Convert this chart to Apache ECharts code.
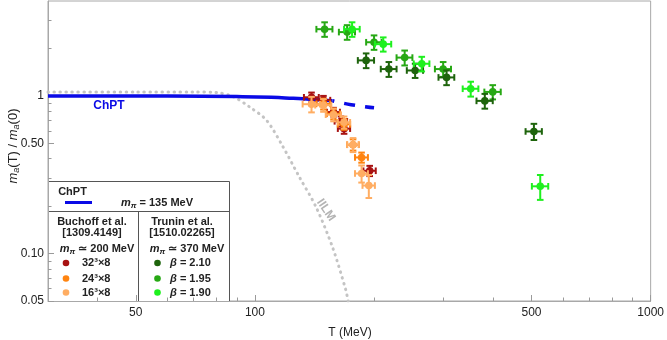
<!DOCTYPE html>
<html>
<head>
<meta charset="utf-8">
<script src="https://cdn.jsdelivr.net/npm/echarts@6/dist/echarts.min.js"></script>
<style>
  html, body { margin: 0; padding: 0; background: #fff; }
  #chart { width: 667px; height: 340px; }
</style>
</head>
<body>
<div id="chart"></div>
<script>
// axis ticks
const xMajor = [50, 100, 500, 1000];
const xMinor = [40, 60, 70, 80, 90, 200, 300, 400, 600, 700, 800, 900];
const yMajor = [0.05, 0.1, 0.5, 1];
const yMajorLabels = ['0.05', '0.10', '0.50', '1'];
const yMinor = [0.06, 0.07, 0.08, 0.09, 0.2, 0.3, 0.4, 0.6, 0.7, 0.8, 0.9, 2, 3];

// ChPT curve (solid, then dashed continuation)
const chptT = [30, 60, 90, 110, 125, 140, 157];
const chptM = [1.0, 0.998, 0.99, 0.98, 0.965, 0.95, 0.932];
const chptDashT = [157, 175, 200];
const chptDashM = [0.932, 0.88, 0.84];

// IILM curve
const iilmT = [30, 50, 70, 80, 88, 97, 107, 117.5, 129.4, 142.6, 157, 169.6, 172];
const iilmM = [1.06, 1.06, 1.06, 1.05, 0.99, 0.85, 0.70, 0.48, 0.307, 0.198, 0.11, 0.059, 0.05];

// Buchoff et al. lattice
const l32T = [139, 149, 158, 165, 168, 195];
const l32M = [0.98, 0.94, 0.79, 0.69, 0.62, 0.335];
const l32dT = [6, 6, 6, 6, 6, 7];
const l32dM = [0.07, 0.06, 0.05, 0.05, 0.045, 0.025];
const l24T = [149, 158, 168, 177, 186];
const l24M = [0.89, 0.77, 0.66, 0.49, 0.407];
const l24dT = [6, 6, 6, 6, 7];
const l24dM = [0.07, 0.06, 0.05, 0.04, 0.03];
const l16T = [139, 149, 158, 168, 177, 186, 194];
const l16M = [0.886, 0.873, 0.76, 0.68, 0.49, 0.322, 0.27];
const l16dT = [7, 7, 7, 6, 6, 7, 7];
const l16dM = [0.1, 0.08, 0.07, 0.06, 0.05, 0.04, 0.045];

// Trunin et al. lattice
const b210T = [191, 218, 254, 305, 381, 507];
const b210M = [1.68, 1.48, 1.45, 1.31, 0.93, 0.595];
const b210dT = [9, 10, 12, 14, 18, 24];
const b210dM = [0.18, 0.16, 0.15, 0.14, 0.10, 0.07];
const b195T = [150, 171, 200, 239, 299, 399];
const b195M = [2.65, 2.54, 2.19, 1.75, 1.48, 1.06];
const b195dT = [7, 8, 9, 11, 14, 19];
const b195dM = [0.28, 0.27, 0.23, 0.19, 0.16, 0.11];
const b190T = [176, 211, 264, 351, 526];
const b190M = [2.65, 2.13, 1.60, 1.11, 0.267];
const b190dT = [8, 10, 12, 16, 25];
const b190dM = [0.28, 0.22, 0.17, 0.12, 0.048];

const cBlue = '#0a0ae6';
const cGray = '#c4c4c4';
const c32 = '#a81212';
const c24 = '#ff8410';
const c16 = '#ffad62';
const c210 = '#1e640c';
const c195 = '#27a814';
const c190 = '#1ef01e';

function pairs(xs, ys) { return xs.map((x, i) => [x, ys[i]]); }
function quads(xs, ys, dxs, dys) { return xs.map((x, i) => [x, ys[i], dxs[i], dys[i]]); }

function errRender(color) {
  return function (params, api) {
    const t = api.value(0), m = api.value(1), dt = api.value(2), dm = api.value(3);
    const c = api.coord([t, m]);
    const l = api.coord([t - dt, m]);
    const r = api.coord([t + dt, m]);
    const up = api.coord([t, m + dm]);
    const dn = api.coord([t, m - dm]);
    const k = 3.3;
    const st = { stroke: color, lineWidth: 2 };
    const ln = (x1, y1, x2, y2) => ({ type: 'line', shape: { x1, y1, x2, y2 }, style: st });
    return {
      type: 'group',
      children: [
        ln(l[0], c[1], r[0], c[1]),
        ln(c[0], up[1], c[0], dn[1]),
        ln(l[0], c[1] - k, l[0], c[1] + k),
        ln(r[0], c[1] - k, r[0], c[1] + k),
        ln(c[0] - k, up[1], c[0] + k, up[1]),
        ln(c[0] - k, dn[1], c[0] + k, dn[1]),
        { type: 'circle', shape: { cx: c[0], cy: c[1], r: 3.8 }, style: { fill: color } }
      ]
    };
  };
}

function errSeries(name, color, data) {
  return { name, type: 'custom', renderItem: errRender(color), data, encode: { x: 0, y: 1 }, clip: true, z: 5 };
}

const font = 'Liberation Sans, Arial, sans-serif';
const tickColor = '#9a9a9a';

function yLabel(v) {
  let best = 0;
  yMajor.forEach((t, i) => { if (Math.abs(t - v) / t < Math.abs(yMajor[best] - v) / yMajor[best]) best = i; });
  return yMajorLabels[best];
}

const subRich = {
  i: { fontSize: 11, fontStyle: 'italic', fontWeight: 'bold', fontFamily: font, fill: '#222', lineHeight: 14 },
  s: { fontSize: 8, fontStyle: 'italic', fontWeight: 'bold', fontFamily: font, fill: '#222', verticalAlign: 'bottom', lineHeight: 14 },
  b: { fontSize: 11, fontWeight: 'bold', fontFamily: font, fill: '#222', lineHeight: 14 }
};
const betaRich = {
  g: { fontSize: 11, fontStyle: 'italic', fontWeight: 'bold', fontFamily: font, fill: '#222' },
  b: { fontSize: 11, fontWeight: 'bold', fontFamily: font, fill: '#222' }
};
function legText(x, y, text, align) {
  return { type: 'text', x, y, style: { text, align: align || 'center', verticalAlign: 'middle', fontSize: 11, fontWeight: 'bold', fontFamily: font, fill: '#222' } };
}

const chart = echarts.init(document.getElementById('chart'));
chart.setOption({
  animation: false,
  grid: { left: 48, right: 15, top: 1, bottom: 39, show: true, borderColor: '#a8a8a8', borderWidth: 1 },
  xAxis: [
    {
      type: 'log', min: 30, max: 1000,
      axisLine: { show: true, lineStyle: { color: '#a8a8a8' } },
      axisTick: { show: true, inside: true, length: 6, customValues: xMajor, lineStyle: { color: tickColor } },
      axisLabel: { customValues: xMajor, color: '#222', fontSize: 12, fontFamily: font, margin: 6, formatter: v => String(Math.round(v)) },
      splitLine: { show: false }, minorTick: { show: false }
    },
    {
      type: 'log', min: 30, max: 1000, position: 'bottom',
      axisLine: { show: false },
      axisTick: { show: true, inside: true, length: 3.5, customValues: xMinor, lineStyle: { color: tickColor } },
      axisLabel: { show: false }, splitLine: { show: false }
    }
  ],
  yAxis: [
    {
      type: 'log', min: 0.05, max: 4,
      axisLine: { show: true, lineStyle: { color: '#a8a8a8' } },
      axisTick: { show: true, inside: true, length: 6, customValues: yMajor, lineStyle: { color: tickColor } },
      axisLabel: { customValues: yMajor, color: '#222', fontSize: 12, fontFamily: font, margin: 4, formatter: yLabel },
      splitLine: { show: false }
    },
    {
      type: 'log', min: 0.05, max: 4, position: 'left',
      axisLine: { show: false },
      axisTick: { show: true, inside: true, length: 3.5, customValues: yMinor, lineStyle: { color: tickColor } },
      axisLabel: { show: false }, splitLine: { show: false }
    }
  ],
  series: [
    { name: 'IILM', type: 'line', data: pairs(iilmT, iilmM), showSymbol: false, smooth: 0.3,
      lineStyle: { color: cGray, width: 3, type: [0.5, 5.5], cap: 'round' }, z: 2 },
    { name: 'ChPT', type: 'line', data: pairs(chptT, chptM), showSymbol: false, smooth: true,
      lineStyle: { color: cBlue, width: 3.5 }, z: 3 },
    { name: 'ChPT ext', type: 'line', data: pairs(chptDashT, chptDashM), showSymbol: false, smooth: true,
      lineStyle: { color: cBlue, width: 3.5, type: [11, 10], dashOffset: -12 }, z: 3 },
    errSeries('32^3x8', c32, quads(l32T, l32M, l32dT, l32dM)),
    errSeries('24^3x8', c24, quads(l24T, l24M, l24dT, l24dM)),
    errSeries('16^3x8', c16, quads(l16T, l16M, l16dT, l16dM)),
    errSeries('b1.95', c195, quads(b195T, b195M, b195dT, b195dM)),
    errSeries('b2.10', c210, quads(b210T, b210M, b210dT, b210dM)),
    errSeries('b1.90', c190, quads(b190T, b190M, b190dT, b190dM))
  ],
  graphic: [
    // y axis name
    { type: 'text', x: 13, y: 146, z: 10, rotation: Math.PI / 2,
      style: {
        text: '{i|m}{s|a}{n|(T) / }{i|m}{s|a}{n|(0)}', align: 'center', verticalAlign: 'middle',
        rich: {
          i: { fontSize: 13, fontStyle: 'italic', fontFamily: font, fill: '#222', lineHeight: 16 },
          s: { fontSize: 9, fontStyle: 'italic', fontFamily: font, fill: '#222', verticalAlign: 'bottom', lineHeight: 16 },
          n: { fontSize: 13, fontFamily: font, fill: '#222', lineHeight: 16 }
        }
      }
    },
    // x axis name
    { type: 'text', x: 350, y: 333, z: 10,
      style: { text: 'T (MeV)', align: 'center', verticalAlign: 'middle', fontSize: 12, fontFamily: font, fill: '#222' } },
    // curve labels
    { type: 'text', x: 109, y: 106, z: 10,
      style: { text: 'ChPT', align: 'center', verticalAlign: 'middle', fontSize: 12, fontWeight: 'bold', fontFamily: font, fill: cBlue } },
    { type: 'text', x: 326, y: 210, z: 10, rotation: -0.98,
      style: { text: 'IILM', align: 'center', verticalAlign: 'middle', fontSize: 12, fontWeight: 'bold', fontFamily: font, fill: '#b4b4b4' } },
    // legend box
    { type: 'group', z: 20, children: [
      { type: 'rect', shape: { x: 48.5, y: 181.5, width: 181, height: 120 }, style: { fill: '#fff', stroke: '#555', lineWidth: 1 } },
      { type: 'line', shape: { x1: 48.5, y1: 211.5, x2: 229.5, y2: 211.5 }, style: { stroke: '#555', lineWidth: 1 } },
      { type: 'line', shape: { x1: 138.5, y1: 211.5, x2: 138.5, y2: 301.5 }, style: { stroke: '#555', lineWidth: 1 } },
      legText(72.5, 191.5, 'ChPT'),
      { type: 'line', shape: { x1: 65, y1: 202.5, x2: 92, y2: 202.5 }, style: { stroke: cBlue, lineWidth: 3 } },
      { type: 'text', x: 157, y: 202.5, style: { text: '{i|m}{s|π}{b| = 135 MeV}', align: 'center', verticalAlign: 'middle', rich: subRich } },
      legText(92, 221.5, 'Buchoff et al.'),
      legText(92, 232.5, '[1309.4149]'),
      { type: 'text', x: 97, y: 248.5, style: { text: '{i|m}{s|π}{b| ≃ 200 MeV}', align: 'center', verticalAlign: 'middle', rich: subRich } },
      { type: 'circle', shape: { cx: 66, cy: 263, r: 3.3 }, style: { fill: c32 } },
      { type: 'circle', shape: { cx: 66, cy: 278.5, r: 3.3 }, style: { fill: c24 } },
      { type: 'circle', shape: { cx: 66, cy: 292.5, r: 3.3 }, style: { fill: c16 } },
      legText(82, 263, '32³×8', 'left'),
      legText(82, 278.5, '24³×8', 'left'),
      legText(82, 292.5, '16³×8', 'left'),
      legText(182, 221.5, 'Trunin et al.'),
      legText(182, 232.5, '[1510.02265]'),
      { type: 'text', x: 187, y: 248.5, style: { text: '{i|m}{s|π}{b| ≃ 370 MeV}', align: 'center', verticalAlign: 'middle', rich: subRich } },
      { type: 'circle', shape: { cx: 157.5, cy: 263, r: 3.3 }, style: { fill: c210 } },
      { type: 'circle', shape: { cx: 157.5, cy: 278.5, r: 3.3 }, style: { fill: c195 } },
      { type: 'circle', shape: { cx: 157.5, cy: 292.5, r: 3.3 }, style: { fill: c190 } },
      { type: 'text', x: 170, y: 263, style: { text: '{g|β}{b| = 2.10}', verticalAlign: 'middle', rich: betaRich } },
      { type: 'text', x: 170, y: 278.5, style: { text: '{g|β}{b| = 1.95}', verticalAlign: 'middle', rich: betaRich } },
      { type: 'text', x: 170, y: 292.5, style: { text: '{g|β}{b| = 1.90}', verticalAlign: 'middle', rich: betaRich } }
    ] }
  ]
});
</script>
</body>
</html>
